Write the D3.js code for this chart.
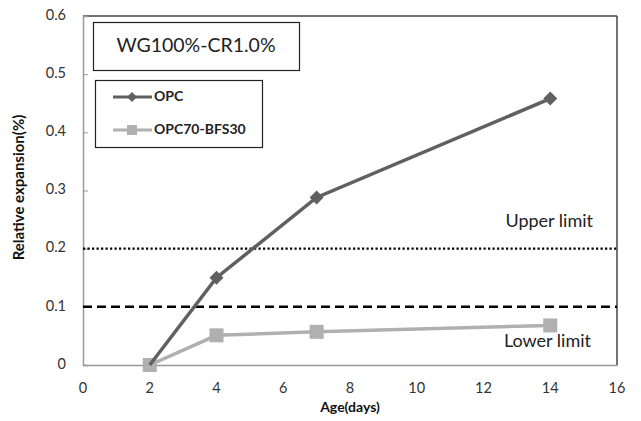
<!DOCTYPE html>
<html>
<head>
<meta charset="utf-8">
<script src="https://cdn.jsdelivr.net/npm/d3@7"></script>
<style>
  body { margin: 0; background: #fff; }
  text { font-family: Lato, "Open Sans", sans-serif; }
</style>
</head>
<body>
<svg id="chart"></svg>
<script>
const ages = [2, 4, 7, 14];
const opc = [0, 0.15, 0.288, 0.458];
const opcBfs = [0, 0.051, 0.057, 0.068];
const xTicks = [0, 2, 4, 6, 8, 10, 12, 14, 16];
const yTicks = [0, 0.1, 0.2, 0.3, 0.4, 0.5, 0.6];
const upperLimit = 0.2;
const lowerLimit = 0.1;

const width = 641, height = 421;
const margin = {top: 16, right: 24, bottom: 56, left: 83};

const svg = d3.select("#chart").attr("width", width).attr("height", height);

const x = d3.scaleLinear().domain([0, 16]).range([margin.left, width - margin.right]);
const y = d3.scaleLinear().domain([0, 0.6]).range([height - margin.bottom, margin.top]);

// frame: top and right dark, left and bottom grey axes
svg.append("line")
  .attr("x1", x(0)).attr("x2", x(16)).attr("y1", y(0.6)).attr("y2", y(0.6))
  .attr("stroke", "#444").attr("stroke-width", 1.5);
svg.append("line")
  .attr("x1", x(16)).attr("x2", x(16)).attr("y1", y(0.6)).attr("y2", y(0))
  .attr("stroke", "#444").attr("stroke-width", 1.5);

const yAxis = svg.append("g")
  .attr("transform", `translate(${x(0)},0)`)
  .call(d3.axisRight(y).tickValues(yTicks).tickSize(5).tickFormat(""));
yAxis.select(".domain").attr("stroke", "#999").attr("stroke-width", 1.5);
yAxis.selectAll(".tick line").attr("stroke", "#999");

const xAxis = svg.append("g")
  .attr("transform", `translate(0,${y(0)})`)
  .call(d3.axisBottom(x).tickValues(xTicks).tickSize(0).tickFormat(""));
xAxis.select(".domain").attr("stroke", "#999").attr("stroke-width", 1.5);

svg.selectAll(".ylab")
  .data(yTicks)
  .enter()
  .append("text")
  .attr("x", x(0) - 17)
  .attr("y", (d) => y(d))
  .attr("text-anchor", "end")
  .attr("dominant-baseline", "middle")
  .attr("font-size", "14.5px")
  .attr("fill", "#333")
  .text((d) => (d === 0 ? "0" : d3.format(".1f")(d)));

svg.selectAll(".xlab")
  .data(xTicks)
  .enter()
  .append("text")
  .attr("x", (d) => x(d))
  .attr("y", y(0) + 28)
  .attr("text-anchor", "middle")
  .attr("font-size", "14.5px")
  .attr("fill", "#333")
  .text((d) => d);

svg.append("text")
  .attr("x", x(8))
  .attr("y", height - 9)
  .attr("text-anchor", "middle")
  .attr("font-size", "14px")
  .attr("font-weight", "bold")
  .attr("fill", "#111")
  .text("Age(days)");

svg.append("text")
  .attr("transform", `translate(20,${y(0.3) - 3}) rotate(-90)`)
  .attr("text-anchor", "middle")
  .attr("dominant-baseline", "middle")
  .attr("font-size", "15px")
  .attr("font-weight", "bold")
  .attr("fill", "#111")
  .text("Relative expansion(%)");

// limit lines
svg.append("line")
  .attr("x1", x(0)).attr("x2", x(16))
  .attr("y1", y(upperLimit)).attr("y2", y(upperLimit))
  .attr("stroke", "#000").attr("stroke-width", 2.4)
  .attr("stroke-dasharray", "2.2,2.3");
svg.append("line")
  .attr("x1", x(0)).attr("x2", x(16))
  .attr("y1", y(lowerLimit)).attr("y2", y(lowerLimit))
  .attr("stroke", "#000").attr("stroke-width", 2.5)
  .attr("stroke-dasharray", "9,5");

svg.append("text")
  .attr("x", 593).attr("y", y(upperLimit) - 22)
  .attr("text-anchor", "end")
  .attr("font-size", "18px")
  .attr("fill", "#222")
  .text("Upper limit");
svg.append("text")
  .attr("x", 591).attr("y", y(lowerLimit) + 40)
  .attr("text-anchor", "end")
  .attr("font-size", "18px")
  .attr("fill", "#222")
  .text("Lower limit");

const line = d3.line().x((d) => x(d[0])).y((d) => y(d[1]));

const bfsPts = ages.map((a, i) => [a, opcBfs[i]]);
const opcPts = ages.map((a, i) => [a, opc[i]]);

svg.append("path")
  .datum(bfsPts)
  .attr("d", line)
  .attr("fill", "none")
  .attr("stroke", "#b0b0b0")
  .attr("stroke-width", 3.5);
svg.selectAll(".bfs-pt")
  .data(bfsPts)
  .enter()
  .append("rect")
  .attr("x", (d) => x(d[0]) - 7)
  .attr("y", (d) => y(d[1]) - 7)
  .attr("width", 14)
  .attr("height", 14)
  .attr("fill", "#b0b0b0");

svg.append("path")
  .datum(opcPts)
  .attr("d", line)
  .attr("fill", "none")
  .attr("stroke", "#606060")
  .attr("stroke-width", 3.5);
// square diamond marker
const diamondPath = (r) => `M0,${-r}L${r},0L0,${r}L${-r},0Z`;
svg.selectAll(".opc-pt")
  .data(opcPts.slice(1))
  .enter()
  .append("path")
  .attr("transform", (d) => `translate(${x(d[0])},${y(d[1])})`)
  .attr("d", diamondPath(7))
  .attr("fill", "#606060");

// title box
svg.append("rect")
  .attr("x", 93.5).attr("y", 22.5).attr("width", 206).attr("height", 48)
  .attr("fill", "#fff").attr("stroke", "#222").attr("stroke-width", 1.2);
svg.append("text")
  .attr("x", 196).attr("y", 47)
  .attr("text-anchor", "middle")
  .attr("dominant-baseline", "middle")
  .attr("font-size", "19.5px")
  .attr("fill", "#222")
  .text("WG100%-CR1.0%");

// legend
svg.append("rect")
  .attr("x", 95.5).attr("y", 80.5).attr("width", 167).attr("height", 67)
  .attr("fill", "#fff").attr("stroke", "#222").attr("stroke-width", 1.2);

const legendItems = [
  {name: "OPC", color: "#606060", shape: "diamond"},
  {name: "OPC70-BFS30", color: "#b0b0b0", shape: "square"},
];
legendItems.forEach((d, i) => {
  const ly = 97 + i * 33;
  svg.append("line")
    .attr("x1", 113).attr("x2", 152).attr("y1", ly).attr("y2", ly)
    .attr("stroke", d.color).attr("stroke-width", 3);
  if (d.shape === "diamond") {
    svg.append("path")
      .attr("transform", `translate(132,${ly})`)
      .attr("d", diamondPath(5))
      .attr("fill", d.color);
  } else {
    svg.append("rect")
      .attr("x", 127).attr("y", ly - 5).attr("width", 10).attr("height", 10)
      .attr("fill", d.color);
  }
  svg.append("text")
    .attr("x", 154).attr("y", ly)
    .attr("dominant-baseline", "middle")
    .attr("font-size", "14px")
    .attr("font-weight", "bold")
    .attr("fill", "#222")
    .text(d.name);
});
</script>
</body>
</html>
